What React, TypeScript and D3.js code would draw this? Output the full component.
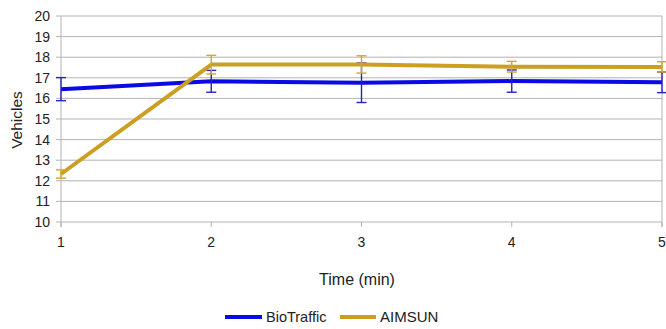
import React from "react";
import * as d3 from "d3";

const times = [1, 2, 3, 4, 5];
const yTicks = [10, 11, 12, 13, 14, 15, 16, 17, 18, 19, 20];
const bioTraffic = [16.45, 16.83, 16.76, 16.84, 16.78];
const bioTrafficErr = [0.56, 0.53, 0.96, 0.54, 0.5];
const aimsun = [12.33, 17.64, 17.65, 17.54, 17.53];
const aimsunErr = [0.2, 0.45, 0.42, 0.26, 0.25];

const seriesList = [
  { name: "BioTraffic", values: bioTraffic, err: bioTrafficErr, color: "#0a0ae6", errColor: "#2424c0" },
  { name: "AIMSUN", values: aimsun, err: aimsunErr, color: "#cc9f22", errColor: "#d6a52a" },
];

const W = 666;
const H = 329;
const left = 61;
const right = 662;
const top = 16;
const bottom = 222;
const font = "'Liberation Sans', Arial, sans-serif";

export default function App() {
  const x = d3.scaleLinear().domain([1, 5]).range([left, right]);
  const y = d3.scaleLinear().domain([10, 20]).range([bottom, top]);
  const line = d3
    .line<number>()
    .x((_, i) => x(times[i]))
    .y((d) => y(d));

  return (
    <svg
      width={W}
      height={H}
      style={{ position: "absolute", left: 0, top: 0, background: "#fff" }}
      fontFamily={font}
    >
      {yTicks.map((t) => (
        <g key={t}>
          <line x1={left - 5} x2={right} y1={y(t)} y2={y(t)} stroke="#b3b3b3" strokeWidth={1} />
          <text x={left - 11} y={y(t)} dy="0.35em" textAnchor="end" fontSize={14} fill="#222">
            {t}
          </text>
        </g>
      ))}
      <line x1={left} x2={left} y1={top} y2={bottom + 5} stroke="#b3b3b3" />
      <line x1={right} x2={right} y1={top} y2={bottom + 5} stroke="#b3b3b3" />
      {times.map((t) => (
        <g key={t}>
          <line x1={x(t)} x2={x(t)} y1={bottom} y2={bottom + 5} stroke="#b3b3b3" />
          <text x={x(t)} y={bottom + 20} dy="0.35em" textAnchor="middle" fontSize={14} fill="#222">
            {t}
          </text>
        </g>
      ))}
      <text x={357} y={279} dy="0.35em" textAnchor="middle" fontSize={16} fill="#222">
        Time (min)
      </text>
      <text
        transform={`translate(17,${(top + bottom) / 2 + 1}) rotate(-90)`}
        dy="0.35em"
        textAnchor="middle"
        fontSize={15.5}
        fill="#222"
      >
        Vehicles
      </text>

      {seriesList.map((s) => (
        <g key={s.name}>
          <path d={line(s.values) || ""} fill="none" stroke={s.color} strokeWidth={4} strokeLinejoin="round" />
          {s.values.map((v, i) => {
            const cx = x(times[i]);
            return (
              <g key={i} stroke={s.errColor} strokeWidth={1.4}>
                <line x1={cx} x2={cx} y1={y(v - s.err[i])} y2={y(v + s.err[i])} />
                <line x1={cx - 5} x2={cx + 5} y1={y(v - s.err[i])} y2={y(v - s.err[i])} />
                <line x1={cx - 5} x2={cx + 5} y1={y(v + s.err[i])} y2={y(v + s.err[i])} />
              </g>
            );
          })}
        </g>
      ))}

      <g>
        <line x1={225} x2={262} y1={317} y2={317} stroke={seriesList[0].color} strokeWidth={4} />
        <text x={266} y={317} dy="0.35em" fontSize={14.5} fill="#222">
          BioTraffic
        </text>
        <line x1={340} x2={376} y1={317} y2={317} stroke={seriesList[1].color} strokeWidth={4} />
        <text x={380} y={317} dy="0.35em" fontSize={15} fill="#222">
          AIMSUN
        </text>
      </g>
    </svg>
  );
}
